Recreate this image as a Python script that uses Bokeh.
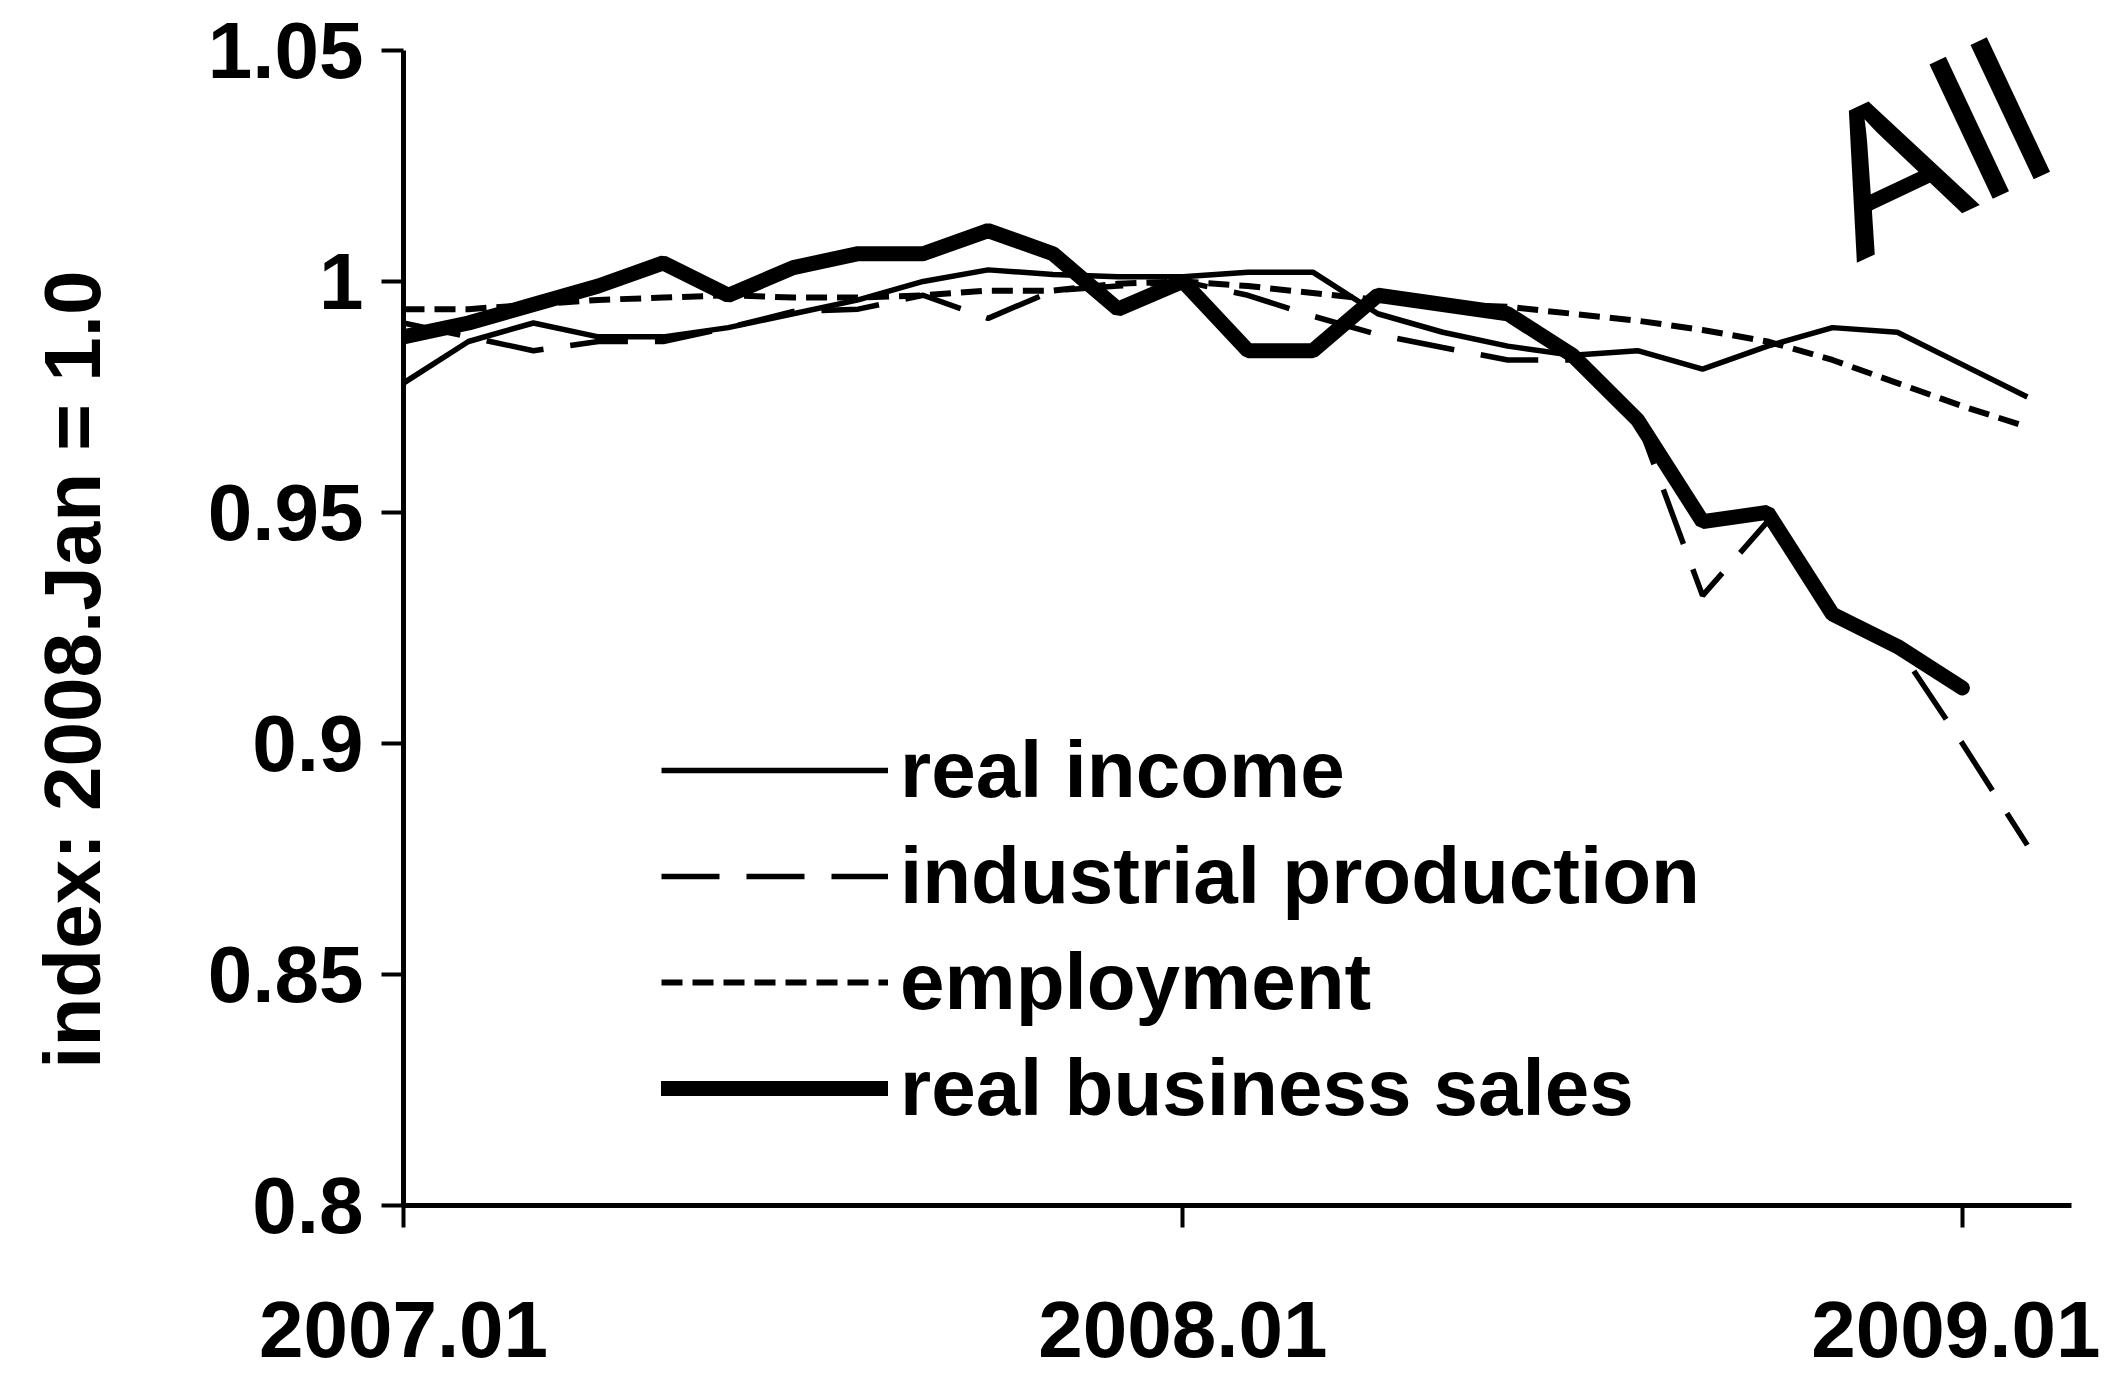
from bokeh.plotting import figure
from bokeh.models import Range1d, FixedTicker, Legend, LegendItem, Label
from bokeh.embed import file_html
from bokeh.resources import INLINE

# ---- data (monthly index, 2008.Jan = 1.0) ----
months = ["2007.01", "2007.02", "2007.03", "2007.04", "2007.05", "2007.06",
          "2007.07", "2007.08", "2007.09", "2007.10", "2007.11", "2007.12",
          "2008.01", "2008.02", "2008.03", "2008.04", "2008.05", "2008.06",
          "2008.07", "2008.08", "2008.09", "2008.10", "2008.11", "2008.12",
          "2009.01", "2009.02"]

real_income = [0.978, 0.987, 0.991, 0.988, 0.988, 0.990, 0.993, 0.996, 1.000,
               1.0025, 1.0015, 1.001, 1.001, 1.002, 1.002, 0.993, 0.989,
               0.986, 0.984, 0.985, 0.981, 0.986, 0.990, 0.989, 0.982, 0.975]

industrial_production = [0.991, 0.988, 0.985, 0.987, 0.987, 0.990, 0.9935,
                         0.994, 0.997, 0.992, 0.998, 0.999, 1.000, 0.997,
                         0.9925, 0.9885, 0.9857, 0.983, 0.983, 0.970, 0.932,
                         0.948, 0.929, 0.921, 0.900, 0.878]

employment = [0.994, 0.994, 0.995, 0.996, 0.9965, 0.997, 0.9965, 0.9965,
              0.997, 0.998, 0.998, 0.9995, 1.000, 0.999, 0.9975, 0.996,
              0.995, 0.9945, 0.993, 0.9915, 0.9895, 0.987, 0.983, 0.978,
              0.973, 0.9685]

real_business_sales = [0.988, 0.991, 0.995, 0.999, 1.004, 0.997, 1.003, 1.006,
                       1.006, 1.011, 1.006, 0.994, 1.000, 0.985, 0.985, 0.997,
                       0.995, 0.993, 0.984, 0.970, 0.948, 0.950, 0.928, 0.921,
                       0.912]

x_tick_positions = [0, 12, 24]
x_tick_labels = ["2007.01", "2008.01", "2009.01"]
y_ticks = [0.8, 0.85, 0.9, 0.95, 1.0, 1.05]
y_tick_labels = ["0.8", "0.85", "0.9", "0.95", "1", "1.05"]
y_title = "index: 2008.Jan = 1.0"
note_text = "All"

x_all = list(range(len(months)))
x_sales = list(range(len(real_business_sales)))

FONT = "Liberation Sans"

p = figure(width=2100, height=1380, output_backend="svg", toolbar_location=None,
           x_range=Range1d(0, 25.68), y_range=Range1d(0.8, 1.0608),
           min_border_left=403, min_border_right=29, min_border_top=0,
           min_border_bottom=175)
p.outline_line_color = None
p.grid.visible = False
p.background_fill_color = "white"
p.border_fill_color = "white"

r_inc = p.line(x_all, real_income, line_color="black", line_width=5.5)
r_ip = p.line(x_all, industrial_production, line_color="black", line_width=5.5,
              line_dash="58 27")
r_emp = p.line(x_all, employment, line_color="black", line_width=6,
               line_dash="21 10")
r_sales = p.line(x_sales, real_business_sales, line_color="black", line_width=15,
                 line_cap="round")

# axes
p.xaxis.ticker = FixedTicker(ticks=x_tick_positions)
p.xaxis.major_label_overrides = {t: l for t, l in zip(x_tick_positions, x_tick_labels)}
p.yaxis.ticker = FixedTicker(ticks=y_ticks)
p.yaxis.major_label_overrides = {t: l for t, l in zip(y_ticks, y_tick_labels)}
p.yaxis.bounds = (y_ticks[0], y_ticks[-1])

for ax in (p.xaxis[0], p.yaxis[0]):
    ax.axis_line_width = 5
    ax.axis_line_color = "black"
    ax.major_tick_line_width = 4
    ax.major_tick_line_color = "black"
    ax.major_tick_out = 22
    ax.major_tick_in = 0
    ax.minor_tick_line_color = None
    ax.major_label_text_font = FONT
    ax.major_label_text_font_size = "80px"
    ax.major_label_text_font_style = "bold"
    ax.major_label_text_color = "black"

p.yaxis.major_label_standoff = 18
p.xaxis.major_label_standoff = 74

# y-axis title; the trailing no-break spaces nudge the centred title down a little
p.yaxis.axis_label = y_title + "\u00a0" * 6
p.yaxis.axis_label_text_font = FONT
p.yaxis.axis_label_text_font_size = "80px"
p.yaxis.axis_label_text_font_style = "bold"
p.yaxis.axis_label_text_color = "black"
p.yaxis.axis_label_standoff = 88

legend = Legend(items=[
    LegendItem(label="real income", renderers=[r_inc]),
    LegendItem(label="industrial production", renderers=[r_ip]),
    LegendItem(label="employment", renderers=[r_emp]),
    LegendItem(label="real business sales", renderers=[r_sales]),
], location=(258, 64))
legend.padding = 0
legend.margin = 0
legend.spacing = 0
legend.label_standoff = 12
legend.glyph_width = 227
legend.glyph_height = 106
legend.label_height = 106
legend.border_line_color = None
legend.background_fill_alpha = 0
legend.label_text_font = FONT
legend.label_text_font_size = "80px"
legend.label_text_font_style = "bold"
legend.label_text_color = "black"
p.add_layout(legend)

# handwritten note at top right
note = Label(x=21.9, y=1.018, text=note_text, angle=0.44,
             text_font=FONT, text_font_size="205px", text_font_style="normal",
             text_color="black", text_baseline="alphabetic", text_align="left")
p.add_layout(note)

open("out.html", "w").write(file_html(p, INLINE))
